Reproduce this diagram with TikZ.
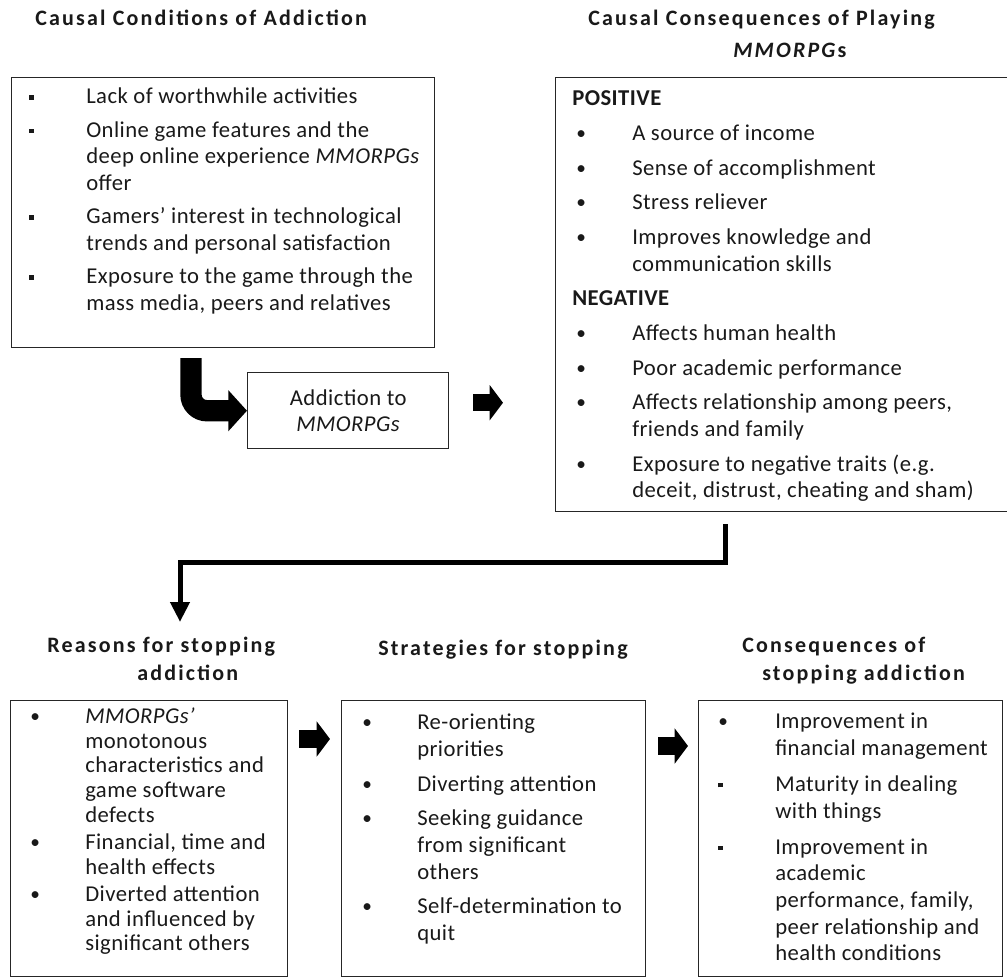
\documentclass[tikz,border=0pt]{standalone}
\usepackage{fontspec}
\setmainfont{Carlito}
\newfontfamily\headfont[LetterSpace=10]{Carlito}
\newfontfamily\listfont[LetterSpace=2]{Carlito}
\usetikzlibrary{arrows.meta}
\newcommand{\rb}{\raisebox{0.1ex}{\fontsize{14.5}{14.5}\selectfont\textbullet}}
\newcommand{\sqb}{\rule[0.4ex]{3.2pt}{3.2pt}}

\begin{document}
\begin{tikzpicture}[x=0.75pt,y=-0.75pt,
  panel/.style={draw=black!85,line width=1.1pt,anchor=north west,inner sep=0pt},
  listtext/.style={anchor=north west,inner sep=0pt,text=black!90,font=\listfont\fontsize{17}{20}\selectfont},
  heading/.style={anchor=base west,inner sep=0pt,align=left,text=black!90,font=\headfont\fontsize{16.5}{21}\selectfont\bfseries},
  blockarrow/.style={line width=13pt,-{Triangle[length=10pt,width=26pt]}},
  bendarrow/.style={line width=16pt,rounded corners=12pt,-{Triangle[length=14pt,width=30pt]}},
  elbow/.style={line width=3.75pt,-{Triangle[length=15pt,width=14pt]}}]
  \useasboundingbox (0,0) rectangle (1007,978);

  \node[heading] (condT) at (35,26) {Causal Conditions of Addiction};
  \node[heading] (conseqT) at (588,57) {Causal Consequences of Playing\\[3pt]\hspace*{108.75pt}\textit{MMORPG}s};
  \node[heading] (reasonT) at (47,680) {Reasons for stopping\\\hspace*{67.5pt}addiction};
  \node[heading] (stratT) at (378,655) {Strategies for stopping};
  \node[heading] (afterT) at (742,680) {Consequences of\\\hspace*{15pt}stopping addiction};

  \node[panel,minimum width=317.25pt,minimum height=202.5pt] (cond) at (11,77) {};
  \node[panel,minimum width=150.75pt,minimum height=57pt,align=center,text=black!90,
        font=\listfont\fontsize{17}{20}\selectfont] (addict) at (247,372) {Addiction to\\\textit{MMORPGs}};
  \node[panel,minimum width=340.5pt,minimum height=325.5pt] (conseq) at (555,77) {};
  \node[panel,minimum width=207.75pt,minimum height=207pt] (reason) at (10,700) {};
  \node[panel,minimum width=228pt,minimum height=207pt] (strat) at (341,700) {};
  \node[panel,minimum width=228pt,minimum height=207pt] (after) at (698,700) {};

  \node[listtext] (condL) at (29,85) {\begin{tabular}{@{}p{42.75pt}@{}l@{}}
    \sqb & Lack of worthwhile activities\\[5pt]
    \sqb & Online game features and the\\
         & deep online experience \textit{MMORPGs}\\
         & offer\\[5pt]
    \sqb & Gamers’ interest in technological\\
         & trends and personal satisfaction\\[5pt]
    \sqb & Exposure to the game through the\\
         & mass media, peers and relatives
  \end{tabular}};
  \node[listtext] (conseqL) at (572,87) {\begin{tabular}{@{}p{45pt}@{}l@{}}
    \multicolumn{2}{@{}l@{}}{\textbf{POSITIVE}}\\[6pt]
    \hspace{3pt}\rb & A source of income\\[6pt]
    \hspace{3pt}\rb & Sense of accomplishment\\[6pt]
    \hspace{3pt}\rb & Stress reliever\\[6pt]
    \hspace{3pt}\rb & Improves knowledge and\\
                    & communication skills\\[6pt]
    \multicolumn{2}{@{}l@{}}{\textbf{NEGATIVE}}\\[6pt]
    \hspace{3pt}\rb & Affects human health\\[6pt]
    \hspace{3pt}\rb & Poor academic performance\\[6pt]
    \hspace{3pt}\rb & Affects relationship among peers,\\
                    & friends and family\\[6pt]
    \hspace{3pt}\rb & Exposure to negative traits (e.g.\\
                    & deceit, distrust, cheating and sham)
  \end{tabular}};
  \node[listtext,font=\listfont\fontsize{17}{18.5}\selectfont] (reasonL) at (30,706) {\begin{tabular}{@{}p{41.25pt}@{}l@{}}
    \rb & \textit{MMORPGs’}\\
        & monotonous\\
        & characteristics and\\
        & game software\\
        & defects\\[2pt]
    \rb & Financial, time and\\
        & health effects\\[2pt]
    \rb & Diverted attention\\
        & and influenced by\\
        & significant others
  \end{tabular}};
  \node[listtext] (stratL) at (362,711) {\begin{tabular}{@{}p{41.25pt}@{}l@{}}
    \rb & Re-orienting\\
        & priorities\\[6pt]
    \rb & Diverting attention\\[6pt]
    \rb & Seeking guidance\\
        & from significant\\
        & others\\[6pt]
    \rb & Self-determination to\\
        & quit
  \end{tabular}};
  \node[listtext] (afterL) at (718,710) {\begin{tabular}{@{}p{42.75pt}@{}l@{}}
    \rb  & Improvement in\\
         & financial management\\[7pt]
    \sqb & Maturity in dealing\\
         & with things\\[7pt]
    \sqb & Improvement in\\
         & academic\\
         & performance, family,\\
         & peer relationship and\\
         & health conditions
  \end{tabular}};

  \coordinate (bendstart) at (191,358);
  \draw[bendarrow] (bendstart) |- (addict.west);
  \draw[blockarrow,shorten <=18pt,shorten >=39pt] ([yshift=6pt]addict.east) -- ([yshift=6pt]addict.east -| conseq.west);
  \draw[elbow] ([shift={(170,12)}]conseq.south west) -- ++(0,38) -| ([shift={(170,-78)}]reason.north west);
  \draw[blockarrow,shorten <=8.25pt,shorten >=8.25pt] ([yshift=-29.25pt]reason.north east) -- ([yshift=-29.25pt]reason.north east -| strat.west);
  \draw[blockarrow,shorten <=9pt,shorten >=7.5pt] ([yshift=-34.5pt]strat.north east) -- ([yshift=-34.5pt]strat.north east -| after.west);
\end{tikzpicture}
\end{document}
